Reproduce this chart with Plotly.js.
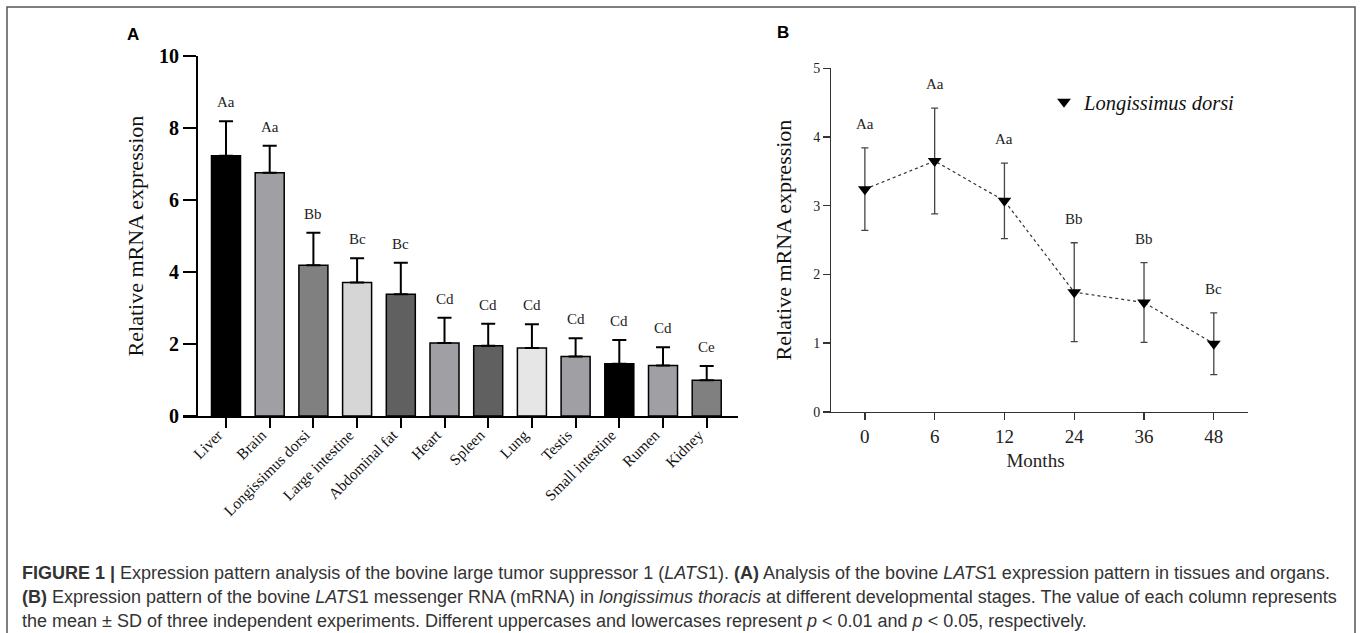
<!DOCTYPE html>
<html>
<head>
<meta charset="utf-8">
<script src="https://cdn.plot.ly/plotly-3.0.1.min.js"></script>
<style>html,body{margin:0;padding:0;background:#fff;}#chart{width:1360px;height:633px;}</style>
</head>
<body>
<div id="chart"></div>
<script>
// ---- Panel A data: tissues ----
const tissues = ['Liver', 'Brain', 'Longissimus dorsi', 'Large intestine', 'Abdominal fat', 'Heart',
                 'Spleen', 'Lung', 'Testis', 'Small intestine', 'Rumen', 'Kidney'];
const tissueMean = [7.23, 6.76, 4.19, 3.71, 3.38, 2.03, 1.95, 1.89, 1.65, 1.45, 1.40, 0.99];
const tissueSD   = [0.96, 0.75, 0.90, 0.67, 0.88, 0.70, 0.61, 0.66, 0.51, 0.66, 0.51, 0.40];
const tissueLetters = ['Aa', 'Aa', 'Bb', 'Bc', 'Bc', 'Cd', 'Cd', 'Cd', 'Cd', 'Cd', 'Cd', 'Ce'];
const barColors = ['#000000', '#a0a0a4', '#808080', '#d6d6d6', '#606060', '#a0a0a4',
                   '#606060', '#e6e6e6', '#a0a0a4', '#000000', '#a0a0a4', '#808080'];

// ---- Panel B data: developmental stages ----
const months = ['0', '6', '12', '24', '36', '48'];
const ldMean = [3.24, 3.65, 3.07, 1.74, 1.59, 0.99];
const ldSD   = [0.60, 0.77, 0.55, 0.72, 0.58, 0.45];
const monthLetters = ['Aa', 'Aa', 'Aa', 'Bb', 'Bb', 'Bc'];

// ---- Caption lines ----
const captionLines = [
  '<b>FIGURE 1 |</b> Expression pattern analysis of the bovine large tumor suppressor 1 (<i>LATS</i>1). <b>(A)</b> Analysis of the bovine <i>LATS</i>1 expression pattern in tissues and organs.',
  '<b>(B)</b> Expression pattern of the bovine <i>LATS</i>1 messenger RNA (mRNA) in <i>longissimus thoracis</i> at different developmental stages. The value of each column represents',
  'the mean ± SD of three independent experiments. Different uppercases and lowercases represent <i>p</i> &lt; 0.01 and <i>p</i> &lt; 0.05, respectively.'
];

const W = 1360, H = 633;
const px = v => v / W;
const py = v => 1 - v / H;
const serif = 'Liberation Serif, Times New Roman, serif';
const sans = 'Liberation Sans, Arial, Helvetica, sans-serif';

const traces = [
  {
    type: 'bar', x: tissues, y: tissueMean, xaxis: 'x', yaxis: 'y',
    marker: { color: barColors, line: { color: '#000', width: 1.5 } },
    error_y: { type: 'data', array: tissueSD, arrayminus: tissueSD.map(() => 0), symmetric: false,
               color: '#000', thickness: 2, width: 7 },
    showlegend: false, hoverinfo: 'x+y'
  },
  {
    type: 'scatter', mode: 'lines', x: months, y: ldMean, xaxis: 'x2', yaxis: 'y2',
    line: { color: '#333', width: 1.2, dash: 'dot' }, showlegend: false, hoverinfo: 'skip'
  },
  {
    type: 'scatter', mode: 'markers', x: months, y: ldMean, xaxis: 'x2', yaxis: 'y2',
    name: '<i>Longissimus dorsi</i>',
    marker: { symbol: 'triangle-down', size: 12, color: '#000' },
    error_y: { type: 'data', array: ldSD, symmetric: true, color: '#444', thickness: 1.3, width: 3.5 },
    showlegend: true
  }
];

const annotations = [];
tissues.forEach((t, i) => annotations.push({
  xref: 'x', yref: 'y', x: i, y: tissueMean[i] + tissueSD[i], text: tissueLetters[i],
  showarrow: false, xanchor: 'center', yanchor: 'bottom', yshift: 9, font: { family: serif, size: 15, color: '#222' }
}));
months.forEach((m, i) => annotations.push({
  xref: 'x2', yref: 'y2', x: i, y: ldMean[i] + ldSD[i], text: monthLetters[i],
  showarrow: false, xanchor: 'center', yanchor: 'bottom', yshift: 14, font: { family: serif, size: 15, color: '#222' }
}));
annotations.push({ xref: 'paper', yref: 'paper', x: px(133), y: py(35), xanchor: 'center', yanchor: 'middle',
  text: '<b>A</b>', showarrow: false, font: { family: sans, size: 17, color: '#000' } });
annotations.push({ xref: 'paper', yref: 'paper', x: px(783), y: py(33), xanchor: 'center', yanchor: 'middle',
  text: '<b>B</b>', showarrow: false, font: { family: sans, size: 17, color: '#000' } });
const captionY = [573, 597, 621];
captionLines.forEach((line, i) => annotations.push({
  xref: 'paper', yref: 'paper', x: px(20), y: py(captionY[i]), xanchor: 'left', yanchor: 'middle', align: 'left',
  showarrow: false, font: { family: sans, size: 18, color: '#333' }, text: line
}));

const layout = {
  width: W, height: H,
  margin: { l: 0, r: 0, t: 0, b: 0 },
  paper_bgcolor: '#fff', plot_bgcolor: 'rgba(0,0,0,0)',
  bargap: 0.336,
  showlegend: true,
  legend: { x: px(1044), y: py(82), xanchor: 'left', yanchor: 'top', bgcolor: 'rgba(0,0,0,0)',
            font: { family: serif, size: 20.5, color: '#111' } },
  xaxis: {
    domain: [px(183), px(738)], anchor: 'y', type: 'category', range: [-0.984, 11.716],
    showline: true, linecolor: '#000', linewidth: 2, ticks: 'outside', ticklen: 10, tickwidth: 2, tickcolor: '#000',
    tickangle: -45, ticklabelstandoff: -8, ticklabelshift: -8, tickfont: { family: serif, size: 15.5, color: '#111' },
    showgrid: false, zeroline: false, fixedrange: true
  },
  yaxis: {
    domain: [py(416), py(56)], anchor: 'free', position: px(197), range: [0, 10], dtick: 2,
    showline: true, linecolor: '#000', linewidth: 2, ticks: 'outside', ticklen: 13, tickwidth: 2, tickcolor: '#000',
    tickfont: { family: serif, size: 20, color: '#000', weight: 'bold' }, showgrid: false, zeroline: false,
    title: { text: 'Relative mRNA expression', font: { family: serif, size: 22, color: '#111' }, standoff: 8 }
  },
  xaxis2: {
    domain: [px(823), px(1248)], anchor: 'y2', type: 'category', range: [-0.6, 5.49],
    showline: true, linecolor: '#333', linewidth: 1.3, ticks: 'outside', ticklen: 7, tickwidth: 1.3, tickcolor: '#333',
    tickfont: { family: serif, size: 19, color: '#222' }, showgrid: false, zeroline: false,
    title: { text: 'Months', font: { family: serif, size: 19, color: '#222' }, standoff: 8 }
  },
  yaxis2: {
    domain: [py(411.7), py(68.3)], anchor: 'free', position: px(830), range: [0, 5], dtick: 1,
    showline: true, linecolor: '#333', linewidth: 1.3, ticks: 'outside', ticklen: 7, tickwidth: 1.3, tickcolor: '#333',
    tickfont: { family: serif, size: 14, color: '#222' }, showgrid: false, zeroline: false,
    title: { text: 'Relative mRNA expression', font: { family: serif, size: 22, color: '#111' }, standoff: 14 }
  },
  shapes: [
    { type: 'rect', xref: 'paper', yref: 'paper', x0: px(7), x1: px(1355), y0: -0.05, y1: py(7),
      line: { color: '#555', width: 1.5 }, fillcolor: 'rgba(0,0,0,0)' }
  ],
  annotations: annotations
};

Plotly.newPlot('chart', traces, layout, { displayModeBar: false, staticPlot: true });
</script>
</body>
</html>
